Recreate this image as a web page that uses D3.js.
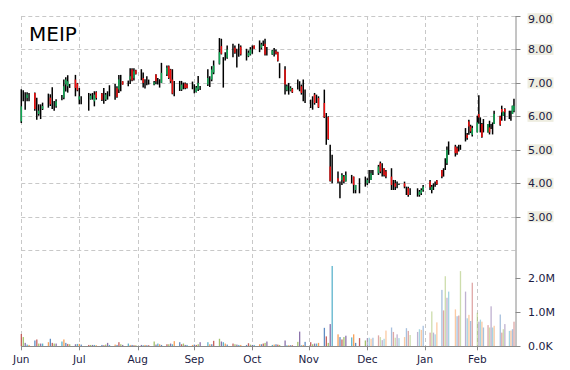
<!DOCTYPE html>
<html><head><meta charset="utf-8">
<script src="https://cdn.jsdelivr.net/npm/d3@7/dist/d3.min.js"></script>
<style>html,body{margin:0;padding:0;background:#fff}svg{display:block}</style>
</head><body><svg id="chart" width="570" height="370"></svg>
<script>
// ---------------- DATA ----------------
const ticker = "MEIP";
const firstDay = "2020-06-01";
const lastDay = "2021-02-26";
const holidays = ["2020-07-03","2020-09-07","2020-11-26","2020-12-25","2021-01-01","2021-01-18","2021-02-15"];

const open = [
 // Jun
 5.85,6.50,6.60,6.55,6.50,6.70,6.00,6.07,6.10,6.22,6.55,6.56,6.45,6.25,6.30,6.60,6.56,6.95,6.90,6.90,7.10,6.98,
 // Jul
 6.50,6.45,6.50,6.52,6.55,6.45,6.72,6.68,6.60,6.50,6.70,6.85,6.90,6.85,6.80,7.00,7.05,6.95,7.10,7.40,7.15,7.38,
 // Aug
 7.15,7.15,6.95,7.10,7.00,6.95,7.25,7.00,6.95,7.00,7.25,7.50,7.40,7.10,6.90,6.85,6.80,6.90,6.98,6.95,6.85,
 // Sep
 6.75,6.73,6.80,6.85,6.95,7.10,7.10,7.31,7.57,8.10,7.60,7.75,7.75,7.90,8.05,7.60,8.05,8.08,7.85,7.80,7.85,
 // Oct
 7.95,8.12,8.10,8.05,8.15,8.17,7.90,7.85,7.90,7.95,7.92,7.25,7.40,6.78,6.80,6.77,6.83,7.00,6.85,6.90,6.60,6.50,
 // Nov
 6.35,6.50,6.65,6.55,6.55,6.40,5.40,5.98,4.50,4.10,4.15,3.90,4.10,4.20,4.05,4.10,4.20,3.80,4.00,4.05,
 // Dec
 4.00,4.20,4.10,4.35,4.30,4.60,4.30,4.45,4.35,4.20,3.90,4.00,4.00,3.97,4.00,3.75,3.85,3.75,3.75,3.65,3.70,3.80,
 // Jan
 4.05,3.80,3.95,4.00,4.08,4.40,4.40,4.60,4.60,5.10,5.10,5.05,5.05,5.05,5.55,5.45,5.85,5.70,5.45,
 // Feb
 5.52,6.07,5.75,5.77,5.70,5.52,5.67,5.68,5.65,5.77,6.00,6.22,6.02,6.22,6.05,6.10,6.07,6.17
];
const high = [
 6.81,6.78,6.72,6.72,6.70,6.71,6.56,6.36,6.36,6.41,6.68,6.66,6.87,6.46,6.51,6.64,7.10,7.17,7.23,6.97,7.24,7.00,
 6.85,6.60,6.70,6.68,6.70,6.75,6.75,6.70,6.85,6.70,6.75,6.93,6.97,6.90,7.24,7.24,7.05,7.07,7.44,7.44,7.44,7.39,
 7.41,7.31,7.11,7.20,7.10,7.06,7.26,7.15,7.11,7.60,7.52,7.52,7.42,7.41,7.06,7.06,7.06,7.01,7.01,6.99,7.04,
 6.96,6.91,7.21,6.91,7.41,7.20,7.50,7.67,8.34,8.32,7.77,7.92,8.12,8.17,8.12,8.02,8.17,8.12,8.02,7.97,8.07,
 8.12,8.12,8.27,8.20,8.27,8.32,8.07,7.99,8.04,8.00,7.93,7.59,7.50,6.95,7.00,6.90,6.85,7.10,7.05,6.95,7.10,6.80,
 6.50,6.60,6.70,6.65,6.60,6.80,6.10,6.00,5.15,4.85,4.35,4.05,4.30,4.25,4.35,4.25,4.20,3.95,4.15,4.20,
 4.15,4.40,4.40,4.40,4.55,4.65,4.60,4.45,4.40,4.45,4.10,4.10,4.05,3.99,4.05,3.90,3.90,3.85,3.85,3.80,3.85,3.95,
 4.10,3.95,4.00,4.05,4.10,4.40,4.45,4.75,5.10,5.25,5.15,5.10,5.15,5.15,5.65,5.50,5.90,5.75,5.72,
 6.02,6.63,5.97,5.80,5.92,5.77,5.87,5.77,5.82,6.17,6.02,6.32,6.14,6.24,6.17,6.17,6.32,6.53
];
const low = [
 5.80,6.45,6.20,6.45,6.45,6.17,5.90,6.02,5.92,6.19,6.26,6.31,6.22,6.17,6.26,6.48,6.51,6.74,6.71,6.85,6.60,6.75,
 6.36,6.36,6.17,6.50,6.50,6.30,6.50,6.46,6.38,6.46,6.50,6.60,6.50,6.56,6.70,6.75,6.95,6.90,6.97,7.05,7.07,7.25,
 7.08,6.86,6.83,6.93,6.95,6.93,6.96,6.95,6.86,7.00,7.21,7.12,7.00,6.66,6.60,6.76,6.76,6.81,6.81,6.83,6.81,
 6.69,6.71,6.76,6.79,6.91,6.88,7.05,7.26,7.55,7.85,6.86,7.67,7.72,7.77,7.87,7.46,7.78,7.82,7.67,7.77,7.82,
 7.87,8.02,7.92,8.00,8.10,7.82,7.82,7.84,7.79,7.85,7.64,7.14,6.65,6.75,6.65,6.75,6.70,6.80,6.75,6.65,6.45,6.40,
 6.25,6.20,6.35,6.40,6.25,5.95,5.15,5.30,4.05,4.00,4.00,3.55,3.95,4.00,4.05,4.00,3.70,3.70,3.70,3.90,
 3.95,4.00,4.10,4.25,4.25,4.30,4.20,4.20,4.15,3.80,3.80,3.80,3.85,3.95,3.85,3.65,3.60,3.65,3.60,3.60,3.65,3.75,
 3.80,3.70,3.80,3.90,3.95,4.15,4.20,4.40,4.55,4.85,4.80,4.85,4.95,5.00,5.25,5.30,5.45,5.50,5.40,
 5.52,5.78,5.52,5.36,5.52,5.52,5.46,5.62,5.46,5.77,5.72,5.87,6.02,5.87,5.92,5.87,6.07,6.12
];
const close = [
 6.30,6.50,6.60,6.65,6.50,6.22,6.00,6.17,6.10,6.31,6.55,6.36,6.45,6.25,6.45,6.60,6.90,7.10,7.05,6.90,6.85,6.78,
 6.60,6.45,6.50,6.62,6.55,6.65,6.55,6.50,6.60,6.65,6.70,6.85,6.90,6.58,7.10,7.00,6.95,6.95,7.20,7.08,7.35,7.27,
 7.15,7.00,6.95,7.10,7.00,7.02,7.05,7.00,6.95,7.30,7.45,7.15,7.05,6.68,6.90,6.85,6.95,6.90,6.85,6.85,6.85,
 6.75,6.86,7.00,6.85,7.15,7.10,7.40,7.52,7.92,7.87,7.60,7.75,8.00,7.90,7.90,7.60,8.05,7.85,7.85,7.90,8.00,
 7.95,8.02,8.10,8.15,8.15,7.85,7.90,7.97,7.90,7.87,7.66,7.25,6.95,6.90,6.80,6.85,6.72,7.00,6.85,6.70,6.60,6.50,
 6.35,6.50,6.40,6.55,6.27,5.97,5.40,5.32,4.07,4.10,4.05,3.90,4.25,4.05,4.25,4.10,3.95,3.95,4.00,4.05,
 4.10,4.20,4.30,4.35,4.50,4.35,4.30,4.25,4.20,3.95,3.90,3.90,4.00,3.98,3.90,3.75,3.65,3.75,3.75,3.75,3.80,3.90,
 3.88,3.90,3.95,4.00,3.97,4.20,4.40,4.60,5.00,5.10,4.90,4.90,5.05,5.05,5.55,5.35,5.70,5.55,5.65,
 5.82,5.97,5.75,5.38,5.70,5.77,5.52,5.68,5.65,6.07,5.75,6.12,6.14,6.12,6.05,6.10,6.32,6.32
];
// volume in millions of shares
const volumeM = [
 0.36,0.27,0.10,0.05,0.04,0.17,0.20,0.08,0.08,0.08,0.12,0.22,0.10,0.08,0.08,0.14,0.20,0.10,0.07,0.06,0.06,0.07,
 0.07,0.05,0.04,0.04,0.04,0.04,0.03,0.04,0.03,0.05,0.10,0.04,0.05,0.04,0.12,0.06,0.04,0.08,0.04,0.04,0.03,0.03,
 0.04,0.03,0.04,0.03,0.03,0.14,0.05,0.08,0.06,0.04,0.06,0.06,0.08,0.06,0.15,0.12,0.06,0.08,0.04,0.04,0.04,
 0.05,0.04,0.06,0.12,0.12,0.06,0.06,0.16,0.22,0.14,0.12,0.08,0.05,0.08,0.06,0.05,0.04,0.04,0.04,0.09,0.05,
 0.04,0.04,0.06,0.06,0.08,0.10,0.14,0.04,0.05,0.06,0.05,0.04,0.17,0.03,0.03,0.03,0.03,0.13,0.43,0.03,0.04,0.13,
 0.12,0.06,0.08,0.08,0.10,0.54,0.29,0.10,0.65,2.35,0.35,0.27,0.20,0.27,0.31,0.26,0.35,0.10,0.24,0.17,
 0.24,0.25,0.22,0.25,0.32,0.27,0.18,0.22,0.46,0.55,0.42,0.25,0.35,0.24,0.27,0.53,0.45,0.33,0.42,0.50,0.48,0.60,
 0.40,1.02,0.40,0.35,0.70,1.65,1.05,2.05,1.42,1.60,1.08,0.88,0.90,2.20,1.60,0.82,0.92,0.74,1.86,
 0.98,0.72,0.78,0.72,0.55,0.62,0.55,1.17,0.55,0.60,0.93,0.40,0.50,0.65,0.45,0.46,0.50,0.72
];
const priceTicks = [3,4,5,6,7,8,9];
const priceGrid = [2,3,4,5,6,7,8,9];
const volumeTicks = [0, 1e6, 2e6];
const monthStarts = ["2020-06-01","2020-07-01","2020-08-01","2020-09-01","2020-10-01","2020-11-01","2020-12-01","2021-01-01","2021-02-01"];
const monthLabels = ["Jun","Jul","Aug","Sep","Oct","Nov","Dec","Jan","Feb"];

// ---------------- LAYOUT ----------------
const W = 570, H = 370;
const plotLeft = 21.3, plotRight = 515.5;
const priceTop = 16, priceBottom = 250.2;
const volTop = 250.6, volBottom = 346.3;
const monthPx = [21.3, 79.3, 137.7, 194.3, 252.3, 308.7, 367.3, 425, 477.3, 515.5];
const axisColor = "#8a8a8a", gridColor = "#c8c8c8", labelColor = "#1c1c44";
const upColor = "#10a854", downColor = "#f20d0d";
const volPalette = ["#C0504D","#9BBB59","#8064A2","#4BACC6","#F79646","#4F81BD"];
const font = "'DejaVu Sans', Verdana, sans-serif";

const parse = d3.utcParse("%Y-%m-%d");
const fmt = d3.utcFormat("%Y-%m-%d");
const hol = new Set(holidays);
const tradingDays = d3.utcDay.range(parse(firstDay), parse(lastDay))
  .filter(d => d.getUTCDay() % 6 !== 0 && !hol.has(fmt(d)));
const n = Math.min(tradingDays.length, open.length, high.length, low.length, close.length, volumeM.length);
const bars = d3.range(n).map(i => ({
  date: tradingDays[i], o: open[i], h: high[i], l: low[i], c: close[i], v: volumeM[i] * 1e6, i
}));

const monthDates = monthStarts.map(parse);
const x = d3.scaleUtc().domain([...monthDates, parse(lastDay)]).range(monthPx);
const yP = d3.scaleLinear().domain([2, 9]).range([priceBottom, priceTop]);
const yV = d3.scaleLinear().domain([0, 2.8e6]).range([volBottom, volTop]);

const svg = d3.select("#chart");
svg.append("rect").attr("width", W).attr("height", H).attr("fill", "#fff");

// gridlines
const g = svg.append("g").attr("stroke", gridColor).attr("stroke-dasharray", "4,3").attr("stroke-width", 1);
g.selectAll("line.h").data(priceGrid).join("line").attr("class", "h")
  .attr("x1", plotLeft).attr("x2", plotRight)
  .attr("y1", d => Math.round(yP(d)) + 0.5).attr("y2", d => Math.round(yP(d)) + 0.5);
g.selectAll("line.v").data(monthDates).join("line").attr("class", "v")
  .attr("x1", d => Math.round(x(d)) + 0.5).attr("x2", d => Math.round(x(d)) + 0.5)
  .attr("y1", priceTop).attr("y2", volBottom);

// volume bars
const lateStart = parse("2020-12-01");
svg.append("g").selectAll("rect").data(bars).join("rect")
  .attr("x", d => x(d.date) - 0.6).attr("width", 1.3)
  .attr("y", d => yV(d.v)).attr("height", d => volBottom - yV(d.v))
  .attr("fill", d => volPalette[d.i % volPalette.length])
  .attr("opacity", d => d.date >= lateStart ? 0.5 : 0.9);

// candles
const cg = svg.append("g");
cg.selectAll("line.wick").data(bars).join("line").attr("class", "wick")
  .attr("x1", d => x(d.date)).attr("x2", d => x(d.date))
  .attr("y1", d => yP(d.h)).attr("y2", d => yP(d.l))
  .attr("stroke", "#000").attr("stroke-width", 1.5);
cg.selectAll("line.body").data(bars.filter(d => Math.abs(d.o - d.c) > 1e-6)).join("line").attr("class", "body")
  .attr("x1", d => x(d.date)).attr("x2", d => x(d.date))
  .attr("y1", d => yP(d.o)).attr("y2", d => yP(d.c))
  .attr("stroke", d => d.c > d.o ? upColor : downColor).attr("stroke-width", 1.5);

// axes lines
svg.append("line").attr("x1", plotRight + 0.5).attr("x2", plotRight + 0.5)
  .attr("y1", priceTop).attr("y2", volBottom + 0.5).attr("stroke", axisColor);
svg.append("line").attr("x1", plotLeft).attr("x2", plotRight + 0.5)
  .attr("y1", Math.round(volBottom) + 0.5).attr("y2", Math.round(volBottom) + 0.5).attr("stroke", axisColor);

// x ticks + labels
svg.append("g").selectAll("line").data(monthDates).join("line")
  .attr("x1", d => Math.round(x(d)) + 0.5).attr("x2", d => Math.round(x(d)) + 0.5)
  .attr("y1", volBottom).attr("y2", volBottom + 4).attr("stroke", axisColor);
svg.append("g").selectAll("text").data(monthDates).join("text")
  .attr("x", d => x(d)).attr("y", 363)
  .attr("text-anchor", "middle").attr("font-family", font).attr("font-size", 10.5)
  .attr("fill", labelColor).text((d, i) => monthLabels[i]);

// price axis ticks + labels
const pl = svg.append("g");
priceTicks.forEach(t => {
  const yy = yP(t);
  const cy = Math.max(yy, 18.7);
  pl.append("line").attr("x1", plotRight).attr("x2", plotRight + 5)
    .attr("y1", Math.round(yy) + 0.5).attr("y2", Math.round(yy) + 0.5).attr("stroke", axisColor);
  pl.append("rect").attr("x", 527.5).attr("y", cy - 5.5).attr("width", 26).attr("height", 11).attr("fill", "#eeede0");
  pl.append("text").attr("x", 528).attr("y", cy).attr("dy", "0.36em")
    .attr("font-family", font).attr("font-size", 11).attr("fill", labelColor)
    .text(d3.format(".2f")(t));
});

// volume axis ticks + labels
const volFmt = v => v >= 1e6 ? (v / 1e6).toFixed(1) + "M" : (v / 1e3).toFixed(1) + "K";
volumeTicks.forEach(t => {
  const yy = yV(t);
  svg.append("line").attr("x1", plotRight).attr("x2", plotRight + 5)
    .attr("y1", Math.round(yy) + 0.5).attr("y2", Math.round(yy) + 0.5).attr("stroke", axisColor);
  svg.append("text").attr("x", 528).attr("y", yy).attr("dy", "0.36em")
    .attr("font-family", font).attr("font-size", 11).attr("fill", labelColor)
    .text(volFmt(t));
});

// title
svg.append("text").attr("x", 29).attr("y", 41).attr("font-family", font)
  .attr("font-size", 20).attr("fill", "#000").text(ticker);
</script>
</body></html>
